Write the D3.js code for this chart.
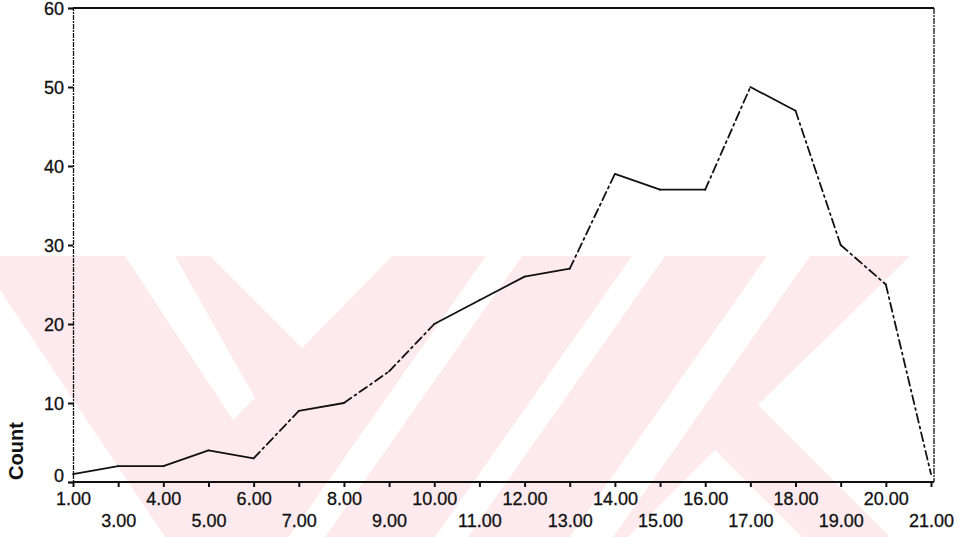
<!DOCTYPE html>
<html>
<head>
<meta charset="utf-8">
<script src="https://cdn.jsdelivr.net/npm/d3@7"></script>
<style>
  html, body { margin: 0; padding: 0; background: #ffffff; }
  svg { display: block; }
  text { font-family: "Liberation Sans", Arial, sans-serif; fill: #111; }
</style>
</head>
<body>
<svg id="chart" width="968" height="537"></svg>
<script>
// Category labels along the x axis (no 2.00 category)
const categories = ["1.00","3.00","4.00","5.00","6.00","7.00","8.00","9.00","10.00","11.00",
                    "12.00","13.00","14.00","15.00","16.00","17.00","18.00","19.00","20.00","21.00"];
// Count per category
const counts = [1, 2, 2, 4, 3, 9, 10, 14, 20, 23, 26, 27, 39, 37, 37, 50, 47, 30, 25, 1];
// Y axis tick values
const yTicks = [0, 10, 20, 30, 40, 50, 60];
const yLabel = "Count";

const W = 968, H = 537;
const margin = { left: 73, right: 35, top: 8, bottom: 55 };
const svg = d3.select("#chart");

// Light pink background emblem behind the plot
const pink = "#fdeaee";
const bg = svg.append("g").attr("class", "emblem");
bg.append("rect").attr("x", 0).attr("y", 256).attr("width", 910).attr("height", H - 256).attr("fill", pink);
const cutouts = [
  [[125,256],[175,256],[255,398],[233,420]],
  [[210,256],[392,256],[302,348]],
  [[0,290],[0,537],[165,537]],
  [[486,256],[522,256],[325,537],[289,537]],
  [[632,256],[665,256],[468,537],[435,537]],
  [[767,256],[810,256],[613,537],[570,537]],
  [[910,256],[968,256],[968,537],[890,537],[758,405]],
  [[715,450],[802,537],[628,537]]
];
bg.selectAll("polygon").data(cutouts).join("polygon")
  .attr("points", d => d.map(p => p.join(",")).join(" "))
  .attr("fill", "#ffffff");

const x = d3.scalePoint().domain(categories).range([margin.left, W - margin.right - 2]);
const y = d3.scaleLinear().domain([0, 60]).range([H - margin.bottom, margin.top]);

const ink = "#111";
const labelFont = "'Liberation Sans', Arial, sans-serif";

// Frame: top rule and right edge
svg.append("line")
  .attr("x1", margin.left).attr("x2", W - margin.right + 1)
  .attr("y1", y(60)).attr("y2", y(60))
  .attr("stroke", ink).attr("stroke-width", 2);
svg.append("line")
  .attr("x1", W - margin.right + 1).attr("x2", W - margin.right + 1)
  .attr("y1", y(60)).attr("y2", y(0))
  .attr("stroke", ink).attr("stroke-width", 1.3).attr("stroke-dasharray", "6,1,2,1");

// Y axis
const yAxis = svg.append("g")
  .attr("transform", `translate(${margin.left},0)`)
  .call(d3.axisLeft(y).tickValues(yTicks).tickSize(5).tickPadding(4).tickFormat(d3.format("d")));
yAxis.select(".domain").attr("stroke", ink).attr("stroke-width", 1.3).attr("stroke-dasharray", "5,1,2,1");
yAxis.selectAll(".tick line").attr("stroke", ink).attr("stroke-width", 2);
yAxis.selectAll(".tick text")
  .attr("font-size", 18).attr("fill", ink)
  .attr("stroke", ink).attr("stroke-width", 0.3)
  .attr("dy", d => (d === 0 ? "-0.02em" : "0.34em"))
  .style("font-family", labelFont);

// X axis with alternating two-row labels
const xAxis = svg.append("g")
  .attr("transform", `translate(0,${y(0)})`)
  .call(d3.axisBottom(x).tickSize(5).tickSizeOuter(0).tickPadding(0));
xAxis.select(".domain").attr("stroke", ink).attr("stroke-width", 2.2)
  .attr("d", `M${margin.left},0H${W - margin.right + 1}`);
xAxis.selectAll(".tick line").attr("stroke", ink).attr("stroke-width", 2);
xAxis.selectAll(".tick text")
  .attr("font-size", 18).attr("fill", ink)
  .attr("stroke", ink).attr("stroke-width", 0.3)
  .attr("dy", null)
  .attr("y", (d, i) => (i % 2 === 0 ? 23 : 45))
  .style("font-family", labelFont);

// Y axis title
svg.append("text")
  .attr("transform", `translate(23,${y(0) - 31}) rotate(-90)`)
  .attr("text-anchor", "middle")
  .attr("font-size", 20).attr("font-weight", "bold").attr("fill", ink)
  .text(yLabel);

// Data line: drawn segment by segment; steep segments use a dash-dot stroke
const pts = categories.map((c, i) => [x(c), y(counts[i])]);
const segs = d3.pairs(pts);
svg.append("g").selectAll("line").data(segs).join("line")
  .attr("x1", d => d[0][0]).attr("y1", d => d[0][1])
  .attr("x2", d => d[1][0]).attr("y2", d => d[1][1])
  .attr("stroke", ink).attr("stroke-width", 1.8).attr("stroke-linecap", "round")
  .attr("stroke-dasharray", d => {
    const s = Math.abs((d[1][1] - d[0][1]) / (d[1][0] - d[0][0]));
    return s > 0.6 ? "9,4,2,4" : null;
  });
</script>
</body>
</html>
